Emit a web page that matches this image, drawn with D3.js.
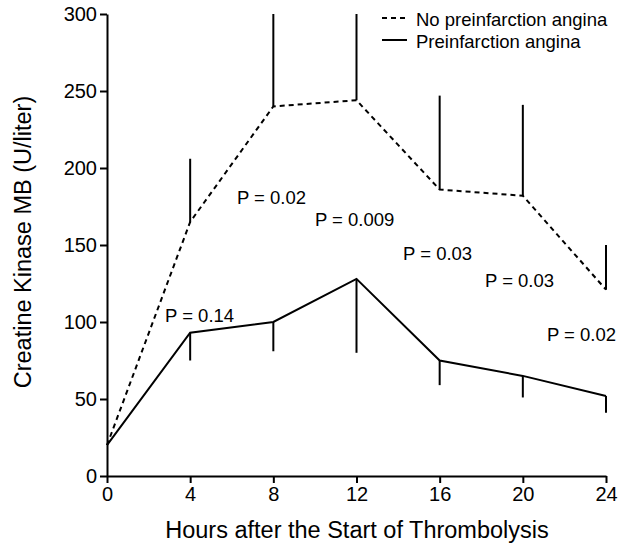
<html>
<head></head>
<body style="margin:0;background:white">
<svg id="svg" width="620" height="544"></svg>
<script src="https://cdn.jsdelivr.net/npm/d3@7"></script>
<script>

var hours = [0, 4, 8, 12, 16, 20, 24];
var noAngina = [20, 165, 240, 244, 186, 182, 121];
var noAnginaHigh = [20, 206, 300, 300, 247, 241, 150];
var angina = [20, 93, 100, 128, 75, 65, 52];
var anginaLow = [20, 75, 81, 80, 59, 51, 41];
var yTicks = [0, 50, 100, 150, 200, 250, 300];
var pLabels = ["P = 0.14", "P = 0.02", "P = 0.009", "P = 0.03", "P = 0.03", "P = 0.02"];
var pHours = [2.79, 6.25, 10.0, 14.24, 18.18, 21.16];
var pValues = [100, 176.6, 162.5, 140, 122.7, 87.7];

var font = "Liberation Sans, Arial, Helvetica, sans-serif";
var svg = d3.select("#svg");

var x = d3.scaleLinear().domain([0, 24]).range([107, 606]);
var y = d3.scaleLinear().domain([0, 300]).range([476, 14]);

var xAxis = svg.append("g").attr("transform", "translate(0,476)")
  .call(d3.axisBottom(x).tickValues(hours).tickSize(7).tickSizeOuter(0).tickPadding(4));
var yAxis = svg.append("g").attr("transform", "translate(107,0)")
  .call(d3.axisLeft(y).tickValues(yTicks).tickSize(7).tickSizeOuter(0).tickPadding(3));

[xAxis, yAxis].forEach(a => {
  a.select(".domain").attr("stroke-width", 2);
  a.selectAll(".tick line").attr("stroke-width", 2);
  a.selectAll(".tick text").attr("font-family", font).attr("font-size", 20).attr("fill", "#000");
});

// error bars
svg.selectAll("line.hi").data(hours.slice(1)).join("line").classed("hi", true)
  .attr("x1", d => x(d)).attr("x2", d => x(d))
  .attr("y1", (d, i) => y(noAngina[i + 1])).attr("y2", (d, i) => y(noAnginaHigh[i + 1]))
  .attr("stroke", "#000").attr("stroke-width", 2);
svg.selectAll("line.lo").data(hours.slice(1)).join("line").classed("lo", true)
  .attr("x1", d => x(d)).attr("x2", d => x(d))
  .attr("y1", (d, i) => y(angina[i + 1])).attr("y2", (d, i) => y(anginaLow[i + 1]))
  .attr("stroke", "#000").attr("stroke-width", 2);

var line = d3.line().x(d => x(d[0])).y(d => y(d[1]));
svg.append("path").datum(hours.map((h, i) => [h, noAngina[i]]))
  .attr("d", line).attr("fill", "none").attr("stroke", "#000")
  .attr("stroke-width", 2).attr("stroke-dasharray", "5,4");
svg.append("path").datum(hours.map((h, i) => [h, angina[i]]))
  .attr("d", line).attr("fill", "none").attr("stroke", "#000")
  .attr("stroke-width", 2);

svg.selectAll("text.p").data(pLabels).join("text").classed("p", true)
  .attr("x", (d, i) => x(pHours[i])).attr("y", (d, i) => y(pValues[i]))
  .attr("font-family", font).attr("font-size", 18.5).text(d => d);

// legend
svg.append("line").attr("x1", 382).attr("x2", 407).attr("y1", 18).attr("y2", 18)
  .attr("stroke", "#000").attr("stroke-width", 2).attr("stroke-dasharray", "5,4");
svg.append("line").attr("x1", 382).attr("x2", 407).attr("y1", 40).attr("y2", 40)
  .attr("stroke", "#000").attr("stroke-width", 2);
svg.append("text").attr("x", 416).attr("y", 26).attr("font-family", font).attr("font-size", 18.5)
  .text("No preinfarction angina");
svg.append("text").attr("x", 416).attr("y", 48).attr("font-family", font).attr("font-size", 18.5)
  .text("Preinfarction angina");

svg.append("text").attr("x", 357).attr("y", 538).attr("text-anchor", "middle")
  .attr("font-family", font).attr("font-size", 23.5).text("Hours after the Start of Thrombolysis");
svg.append("text").attr("transform", "translate(31,242) rotate(-90)").attr("text-anchor", "middle")
  .attr("font-family", font).attr("font-size", 23.5).text("Creatine Kinase MB (U/liter)");

</script>
</body>
</html>
